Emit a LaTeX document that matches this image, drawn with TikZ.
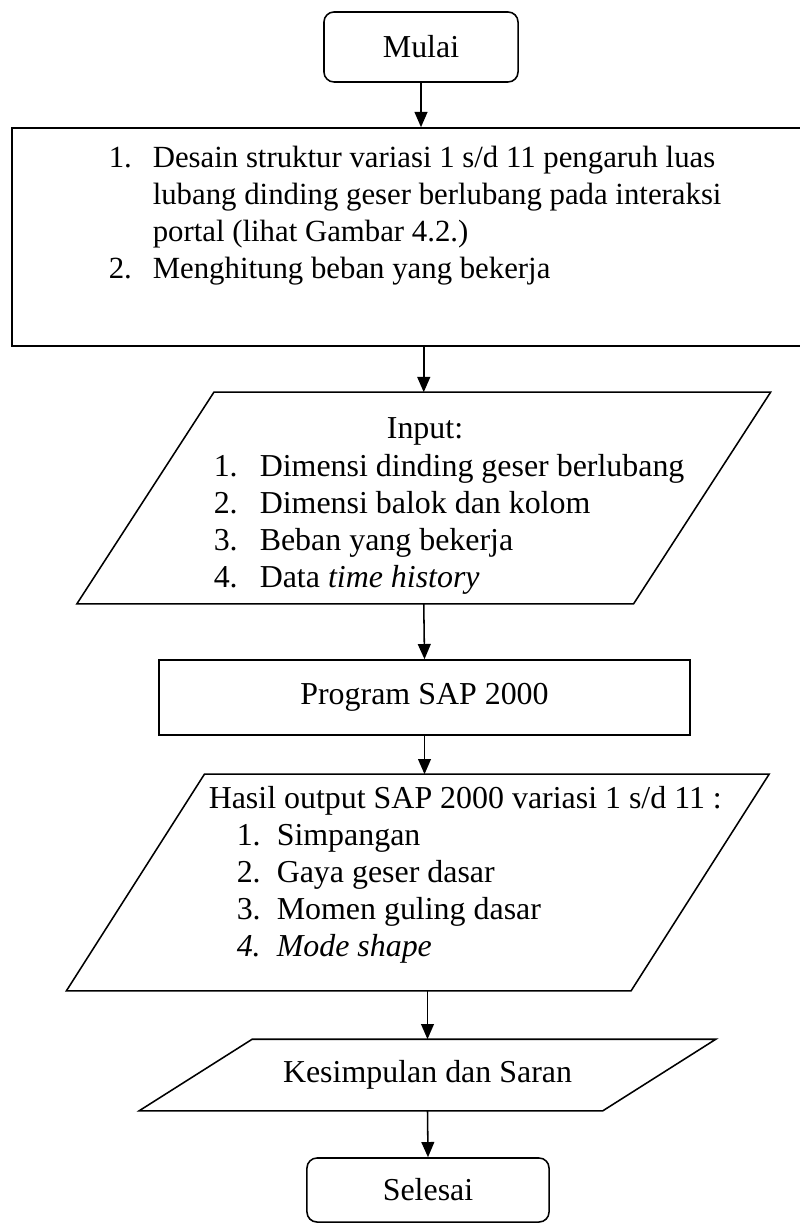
\documentclass[tikz,border=0pt]{standalone}
\usepackage{fontspec}
\setmainfont{Liberation Serif}
\usetikzlibrary{calc,arrows.meta}

\tikzset{
    box/.style = {draw, rectangle, inner sep=0pt},
    term/.style = {box, rounded corners=0.25cm},
    io/.style = {rectangle, inner sep=0pt},
    txt/.style = {inner sep=0pt},
    arr/.style = {-{Triangle[length=0.38cm,width=0.32cm]}}
}

\begin{document}
\begin{tikzpicture}[x=0.025cm, y=-0.025cm, line width=1.1pt,
                    font=\fontsize{22.7}{26.2}\selectfont]
        \useasboundingbox (0,0) rectangle (800,1227);

        % boxes
        \node[term, minimum width=4.85cm, minimum height=1.75cm] (mulai) at (421,47) {Mulai};
        \node[box, minimum width=19.85cm, minimum height=5.45cm] (desain) at (409,237) {};
        \node[io, minimum width=13.875cm, minimum height=5.25cm] (inp) at (423.75,498) {};
        \node[box, minimum width=13.275cm, minimum height=1.875cm] (prog) at (424.5,697.5) {Program SAP 2000};
        \node[io, minimum width=14.075cm, minimum height=5.375cm] (hasil) at (417.75,882.5) {};
        \node[io, minimum width=11.55cm, minimum height=1.75cm] (kes) at (427.5,1075) {Kesimpulan dan Saran};
        \node[term, minimum width=6.05cm, minimum height=1.6cm] (selesai) at (428,1190) {Selesai};

        % parallelograms
        \draw ($(inp.north west)+(68.5,0)$) -- ($(inp.north east)+(68.5,0)$)
            -- ($(inp.south east)-(68.5,0)$) -- ($(inp.south west)-(68.5,0)$) -- cycle;
        \draw ($(hasil.north west)+(69,0)$) -- ($(hasil.north east)+(69,0)$)
            -- ($(hasil.south east)-(69,0)$) -- ($(hasil.south west)-(69,0)$) -- cycle;
        \draw ($(kes.north west)+(56.5,0)$) -- ($(kes.north east)+(56.5,0)$)
            -- ($(kes.south east)-(56.5,0)$) -- ($(kes.south west)-(56.5,0)$) -- cycle;

        % texts
        \node[txt, anchor=north west, font=\fontsize{21.9}{26.2}\selectfont] (desaintxt) at (108,141) {%
            \begin{tabular}{@{}p{1.1cm}@{}l@{}}
                1. & Desain struktur variasi 1 s/d 11 pengaruh luas \\
                   & lubang dinding geser berlubang pada interaksi \\
                   & portal (lihat Gambar 4.2.) \\
                2. & Menghitung beban yang bekerja
            \end{tabular}};
        \node[txt, anchor=base] (inptitle) at (425,438) {Input:};
        \node[txt, anchor=north west] (inptxt) at (213,450) {%
            \begin{tabular}{@{}p{1.15cm}@{}l@{}}
                1. & Dimensi dinding geser berlubang \\
                2. & Dimensi balok dan kolom \\
                3. & Beban yang bekerja \\
                4. & Data \textit{time history}
            \end{tabular}};
        \node[txt, anchor=base west] (hasiltitle) at (208,808) {Hasil output SAP 2000 variasi 1 s/d 11 :};
        \node[txt, anchor=north west] (hasiltxt) at (236,819) {%
            \begin{tabular}{@{}p{1cm}@{}l@{}}
                1. & Simpangan \\
                2. & Gaya geser dasar \\
                3. & Momen guling dasar \\
                \textit{4.} & \textit{Mode shape}
            \end{tabular}};

        % arrows
        \draw[arr] (mulai.south) -- (mulai.south |- desain.north);
        \draw[arr] (inp.north |- desain.south) -- (inp.north);
        \draw[arr] (inp.south) -- (prog.north);
        \draw[arr] (prog.south) -- (prog.south |- hasil.north);
        \draw[arr] (kes.north |- hasil.south) -- (kes.north);
        \draw[arr] (kes.south) -- (selesai.north);
\end{tikzpicture}
\end{document}
